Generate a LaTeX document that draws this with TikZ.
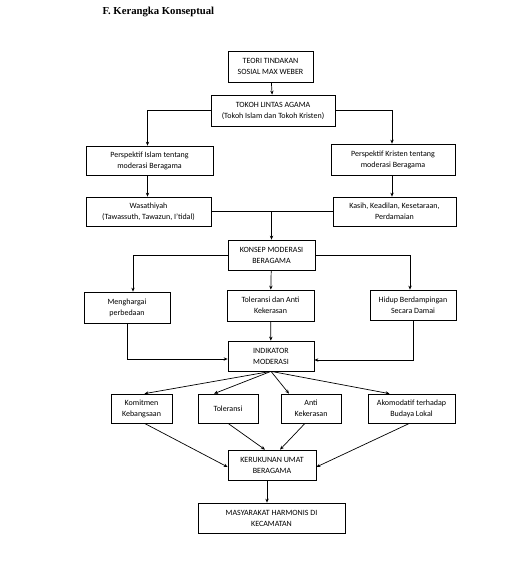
\documentclass[tikz,border=0pt]{standalone}
\usepackage{fontspec}
\setmainfont{Carlito}
\newfontfamily\titlefont{Liberation Serif}
\usetikzlibrary{arrows.meta,positioning,calc}
\tikzset{
  box/.style = {draw, line width=0.7pt, align=center, inner sep=1pt,
    font=\fontsize{8}{11}\selectfont},
  link/.style = {line width=0.7pt, -{Stealth[length=4pt,width=3.4pt]}}
}

\begin{document}
\begin{tikzpicture}[x = 1pt, y = -1pt]
\useasboundingbox (0,0) rectangle (526,564);
\node[anchor = west, font=\titlefont\bfseries\fontsize{10.7}{12}\selectfont] (title) at (99,12) {F. Kerangka Konseptual};

\node[box, minimum width=85, minimum height=31] (teori) at (270.5,66.5) {TEORI TINDAKAN\\SOSIAL MAX WEBER};
\node[box, minimum width=124, minimum height=31] (tokoh) at (273,110.5) {TOKOH LINTAS AGAMA\\(Tokoh Islam dan Tokoh Kristen)};
\node[box, minimum width=127, minimum height=29] (islam) at (149.5,160.5) {Perspektif Islam tentang\\moderasi Beragama};
\node[box, minimum width=124, minimum height=31] (kristen) at (393,159.5) {Perspektif Kristen tentang\\moderasi Beragama};
\node[box, minimum width=125, minimum height=29] (wasa) at (148.5,211.5) {Wasathiyah\\(Tawassuth, Tawazun, I’tidal)};
\node[box, minimum width=123, minimum height=29] (kasih) at (394.5,211.5) {Kasih, Keadilan, Kesetaraan,\\Perdamaian};
\node[box, minimum width=87, minimum height=30] (konsep) at (271.5,255) {KONSEP MODERASI\\BERAGAMA};
\node[box, minimum width=86, minimum height=31] (mengh) at (127,307.5) {Menghargai\\perbedaan};
\node[box, minimum width=87, minimum height=31] (tolanti) at (270.5,305.5) {Toleransi dan Anti\\Kekerasan};
\node[box, minimum width=86, minimum height=30] (hidup) at (413,305) {Hidup Berdampingan\\Secara Damai};
\node[box, minimum width=86, minimum height=30] (indik) at (271,356) {INDIKATOR\\MODERASI};
\node[box, minimum width=61, minimum height=29] (komit) at (141.5,408.5) {Komitmen\\Kebangsaan};
\node[box, minimum width=60, minimum height=29] (toler) at (228,408.5) {Toleransi};
\node[box, minimum width=60, minimum height=29] (anti) at (311,408.5) {Anti\\Kekerasan};
\node[box, minimum width=87, minimum height=29] (akom) at (411.5,408.5) {Akomodatif terhadap\\Budaya Lokal};
\node[box, minimum width=88, minimum height=30] (keruk) at (272,465) {KERUKUNAN UMAT\\BERAGAMA};
\node[box, minimum width=147, minimum height=30] (masy) at (271.5,518) {MASYARAKAT HARMONIS DI\\KECAMATAN};

\draw[link] (teori) -- (tokoh);
\draw[link] (tokoh.west) -| ([xshift=-2]islam.north);
\draw[link] (tokoh.east) -| ([xshift=-1]kristen.north);
\draw[link] ([xshift=-2]islam.south) -- ([xshift=-1]wasa.north);
\draw[link] ([xshift=-1]kristen.south) -- ([xshift=-2.5]kasih.north);
\draw[line width=0.7pt] (wasa.east) -- (kasih.west);
\draw[link] (wasa.east -| konsep.north) -- (konsep.north);
\draw[link] (konsep.west) -| ([xshift=6]mengh.north);
\draw[link] (konsep.east) -| ([xshift=-3]hidup.north);
\draw[link] (konsep) -- (tolanti);
\draw[link] (tolanti) -- (indik);
\draw[link] (mengh.south) |- ([yshift=-3]indik.west);
\draw[link] (hidup.south) |- ([yshift=-4]indik.east);
\draw[link] (indik.south) -- ([xshift=3]komit.north);
\draw[link] (indik.south) -- ([xshift=-14]toler.north);
\draw[link] (indik.south) -- ([xshift=-22]anti.north);
\draw[link] (indik.south) -- ([xshift=-22]akom.north);
\draw[link] ([xshift=3]komit.south) -- ([yshift=-2]keruk.west);
\draw[link] (toler.south) -- ([xshift=-7]keruk.north);
\draw[link] ([xshift=-6]anti.south) -- ([xshift=8]keruk.north);
\draw[link] ([xshift=-2]akom.south) -- ([yshift=-2]keruk.east);
\draw[link] ([xshift=-5]keruk.south) -- ([xshift=-4.5]masy.north);
\end{tikzpicture}
\end{document}
